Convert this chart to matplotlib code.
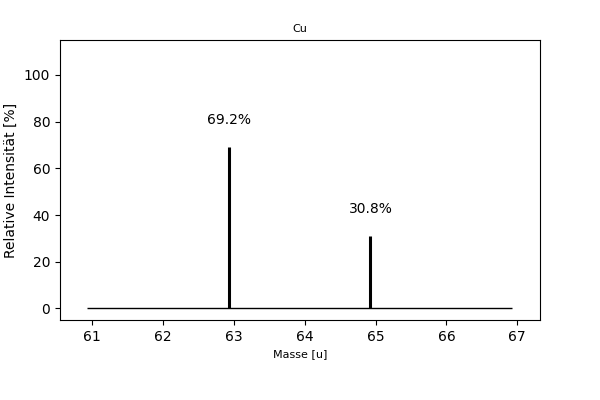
import numpy as np
import matplotlib
matplotlib.use("Agg")
import matplotlib.pyplot as plt

# Isotope von Kupfer
element = "Cu"
massen = [62.9296, 64.9278]
haeufigkeit = [69.2, 30.8]
beschriftung = ["69.2%", "30.8%"]

fig = plt.figure(figsize=(6, 4), dpi=100)
ax = fig.add_axes([0.1, 0.2, 0.8, 0.7])

# Grundlinie von der kleinsten bis zur grössten Masse (+/- 2 u)
ax.hlines(0, min(massen) - 2, max(massen) + 2, color="black", linewidth=1)
ax.vlines(massen, 0, haeufigkeit, color="black", linewidth=2.2)

for m, h, t in zip(massen, haeufigkeit, beschriftung):
    ax.text(m, h + 10, t, ha="center", va="baseline", fontsize=10)

ax.set_xlim(60.55, 67.32)
ax.set_ylim(-5, 115)
ax.set_xticks(np.arange(61, 68))
ax.set_yticks(np.arange(0, 101, 20))
ax.set_title(element, fontsize=8)
ax.set_xlabel("Masse [u]", fontsize=8)
ax.set_ylabel("Relative Intensität [%]", fontsize=10)

fig.savefig("out.png", dpi=100)
